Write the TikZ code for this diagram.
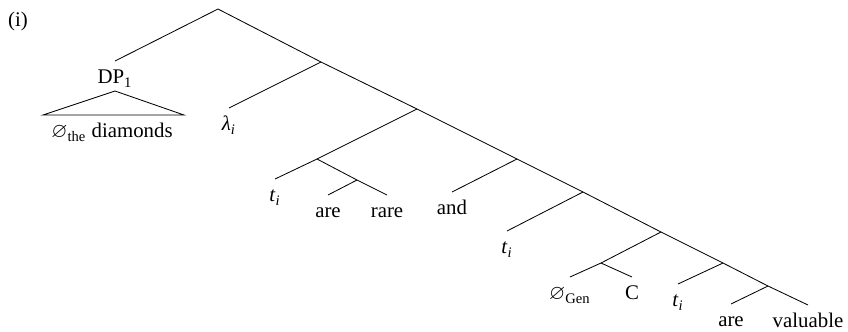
\documentclass[tikz,border=0pt]{standalone}
\usepackage{amsmath,amssymb}
\usepackage{fontspec}
\setmainfont{Liberation Serif}

\begin{document}
\begin{tikzpicture}[x=.48pt,y=-.48pt,font=\normalsize,
    leaf/.style={anchor=north,inner sep=0pt,outer sep=0pt,text height=11pt,text depth=3pt},
    cat/.style={leaf,text depth=3.4pt}]
    \useasboundingbox (0,0) rectangle (848,331);
    % Verzweigungspunkte entlang der rechten Hauptlinie.
    \coordinate (r) at (218,9);
    \coordinate (n1) at (321,62);
    \coordinate (n2) at (417,109);
    \coordinate (n3) at (317,159);
    \coordinate (n4) at (357,180);
    \coordinate (n5) at (517,159);
    \coordinate (n6) at (583,192);
    \coordinate (n7) at (661,232);
    \coordinate (n8) at (601,263);
    \coordinate (n9) at (723,263);
    \coordinate (n10) at (768,286);
    \node at (18,21) (ex) {(i)};
    \node[cat] (dp) at (115,61) {DP$_{\text{1}}$};
    \coordinate (dpl) at (43,115);
    \coordinate (dpr) at (184,115);
    \node[leaf] (dia) at (112,115) {$\varnothing_{\text{the}}$ diamonds};
    \node[leaf] (lam) at (229,108) {\textit{λ}$_{\textit{i}}$};
    \node[leaf] (ta) at (275,179) {\textit{t}$_{\textit{i}}$};
    \node[leaf] (area) at (328,195) {are};
    \node[leaf] (rare) at (387,195) {rare};
    \node[leaf] (and) at (452,192) {and};
    \node[leaf] (tb) at (507,231) {\textit{t}$_{\textit{i}}$};
    \node[leaf] (gen) at (570,277) {$\varnothing_{\text{Gen}}$};
    \node[leaf] (c) at (632,277) {C};
    \node[leaf] (tc) at (678,284) {\textit{t}$_{\textit{i}}$};
    \node[leaf] (areb) at (731,304) {are};
    \node[leaf] (val) at (808,305) {valuable};
    \foreach \a/\b in {r/n1,n1/n2,n2/n3,n3/n4,n2/n5,n5/n6,n6/n7,n7/n8,n7/n9,n9/n10}
      \draw (\a) -- (\b);
    \foreach \a/\b in {r/dp,n1/lam,n3/ta,n4/area,n4/rare,n5/and,n6/tb,n8/gen,n8/c,n9/tc,n10/areb,n10/val}
      \draw (\a) -- (\b.north);
    \draw (dpl) -- (dp.south) -- (dpr) -- cycle;
  \end{tikzpicture}
\end{document}
